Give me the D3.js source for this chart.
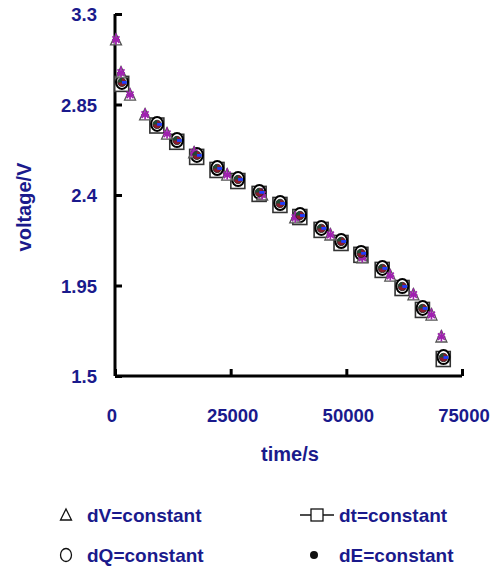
<!DOCTYPE html>
<html>
<head>
<meta charset="utf-8">
<script src="https://cdn.jsdelivr.net/npm/d3@7"></script>
<style>
html,body{margin:0;padding:0;background:#fff;}
svg{display:block;font-family:"Liberation Sans",Arial,sans-serif;}
</style>
</head>
<body>
<svg id="chart" width="494" height="569"></svg>
<script>
// ---- data ----
const xTicks = [0, 25000, 50000, 75000];
const yTicks = [1.5, 1.95, 2.4, 2.85, 3.3];
const yTickLabels = ["1.5", "1.95", "2.4", "2.85", "3.3"];

// dV = constant (triangles)
const timeV = [216, 1300, 3250, 6500, 11250, 17100, 24250, 31800, 38950, 46550, 53450, 59500, 64500, 68400, 70550];
const voltV = [3.171, 3.007, 2.897, 2.798, 2.703, 2.609, 2.499, 2.400, 2.286, 2.201, 2.087, 1.997, 1.903, 1.803, 1.694];

// dt = constant (squares)
const timeT = [1450, 9050, 13350, 17650, 22050, 26550, 31150, 35650, 39950, 44550, 48850, 53150, 57750, 62050, 66450, 70950];
const voltT = [2.955, 2.748, 2.667, 2.592, 2.527, 2.472, 2.408, 2.353, 2.293, 2.229, 2.164, 2.105, 2.030, 1.940, 1.831, 1.587];

// dQ = constant (circles)
const timeQ = [1500, 9100, 13400, 17700, 22100, 26600, 31200, 35700, 40000, 44600, 48900, 53200, 57800, 62100, 66500, 71000];
const voltQ = [2.962, 2.753, 2.673, 2.599, 2.534, 2.479, 2.415, 2.360, 2.300, 2.236, 2.171, 2.112, 2.037, 1.947, 1.838, 1.594];

// dE = constant (dots)
const timeE = [1500, 9100, 13400, 17700, 22100, 26600, 31200, 35700, 40000, 44600, 48900, 53200, 57800, 62100, 66500, 71000];
const voltE = [2.960, 2.751, 2.671, 2.597, 2.532, 2.477, 2.413, 2.358, 2.298, 2.234, 2.169, 2.110, 2.035, 1.945, 1.836, 1.592];

const legendItems = ["dV=constant", "dt=constant", "dQ=constant", "dE=constant"];

// ---- drawing ----
const navy = "#1a1a8c";
const svg = d3.select("#chart");
const x = d3.scaleLinear().domain([0, 75000]).range([115, 462]);
const y = d3.scaleLinear().domain([1.5, 3.3]).range([376, 14]);

// axes
const gx = svg.append("g").attr("transform", `translate(0,${y(1.5)})`)
  .call(d3.axisBottom(x).tickValues(xTicks).tickSize(-7).tickPadding(0).tickFormat(() => ""));
const gy = svg.append("g").attr("transform", `translate(${x(0)},0)`)
  .call(d3.axisLeft(y).tickValues(yTicks).tickSize(-7).tickPadding(0).tickFormat(() => ""));
[gx, gy].forEach(g => {
  g.select(".domain").attr("stroke", "#000").attr("stroke-width", 3);
  g.selectAll(".tick line").attr("stroke", "#000").attr("stroke-width", 3);
});
gx.select(".domain").attr("d", `M${x(0)},0H${x(75000)}`);
gy.select(".domain").attr("d", `M0,${y(3.3)}V${y(1.5)}`);

// tick labels
svg.append("g").selectAll("text").data(xTicks).join("text")
  .attr("x", d => x(d) + (d === 0 ? -3 : 2)).attr("y", 422)
  .attr("text-anchor", "middle").attr("font-size", 18.5).attr("font-weight", "bold")
  .attr("fill", navy).text(d => d);
svg.append("g").selectAll("text").data(yTicks).join("text")
  .attr("x", 97).attr("y", d => y(d) + 7)
  .attr("text-anchor", "end").attr("font-size", 18.5).attr("font-weight", "bold")
  .attr("fill", navy).text((d, i) => yTickLabels[i]);

// axis titles
svg.append("text").attr("transform", "translate(31,207) rotate(-90)")
  .attr("text-anchor", "middle").attr("font-size", 20).attr("font-weight", "bold")
  .attr("fill", navy).text("voltage/V");
svg.append("text").attr("x", 290).attr("y", 461)
  .attr("text-anchor", "middle").attr("font-size", 20).attr("font-weight", "bold")
  .attr("fill", navy).text("time/s");

// marker painters
function square(g) {
  g.append("rect").attr("x", -7).attr("y", -7).attr("width", 14).attr("height", 15)
    .attr("fill", "#fff").attr("stroke", "#333").attr("stroke-width", 1.6);
}
function circle(g) {
  g.append("ellipse").attr("rx", 6).attr("ry", 7)
    .attr("fill", "#fff").attr("stroke", "#000").attr("stroke-width", 2);
}
function triangle(g) {
  g.append("path").attr("d", "M0,-6.5L5.5,5L-5.5,5Z")
    .attr("fill", "rgba(255,255,255,0.55)").attr("stroke", "#555").attr("stroke-width", 1.3);
  g.append("path").attr("d", "M0,-6.5V4.5 M-3.5,-3.5L3.5,3 M3.5,-3.5L-3.5,3 M-4,0H4")
    .attr("stroke", "#a020b0").attr("stroke-width", 1.7).attr("fill", "none");
}
function dot(g) {
  g.append("circle").attr("r", 4.2).attr("fill", "#8b1a2b").attr("stroke", "#222").attr("stroke-width", 0.8);
  g.append("path").attr("d", "M0,0L0,-4.2A4.2,4.2 0 0 0 -4.2,0Z").attr("fill", "#1f4a34");
  g.append("rect").attr("x", 0).attr("y", -1.4).attr("width", 4.8).attr("height", 2.8).attr("fill", "#1e3cff");
}

function series(tArr, vArr, painter) {
  svg.append("g").selectAll("g").data(tArr).join("g")
    .attr("transform", (d, i) => `translate(${x(d)},${y(vArr[i])})`)
    .each(function () { painter(d3.select(this)); });
}
series(timeT, voltT, square);
series(timeQ, voltQ, circle);
series(timeV, voltV, triangle);
series(timeE, voltE, dot);

// legend
const leg = svg.append("g");
const legPos = [[87, 522], [339, 522], [87, 562], [339, 562]];
leg.selectAll("text").data(legendItems).join("text")
  .attr("x", (d, i) => legPos[i][0]).attr("y", (d, i) => legPos[i][1])
  .attr("font-size", 19).attr("font-weight", "bold").attr("fill", navy).text(d => d);
// symbols
leg.append("path").attr("d", "M66,509L71.5,520L60.5,520Z").attr("fill", "none").attr("stroke", "#111").attr("stroke-width", 1.3);
leg.append("path").attr("d", "M300,515H334").attr("stroke", "#111").attr("stroke-width", 1.3);
leg.append("rect").attr("x", 311).attr("y", 509).attr("width", 12).attr("height", 12).attr("fill", "#fff").attr("stroke", "#111").attr("stroke-width", 1.3);
leg.append("ellipse").attr("cx", 66).attr("cy", 555).attr("rx", 5.5).attr("ry", 6.5).attr("fill", "none").attr("stroke", "#111").attr("stroke-width", 1.3);
leg.append("circle").attr("cx", 314).attr("cy", 555).attr("r", 4).attr("fill", "#111");
</script>
</body>
</html>
